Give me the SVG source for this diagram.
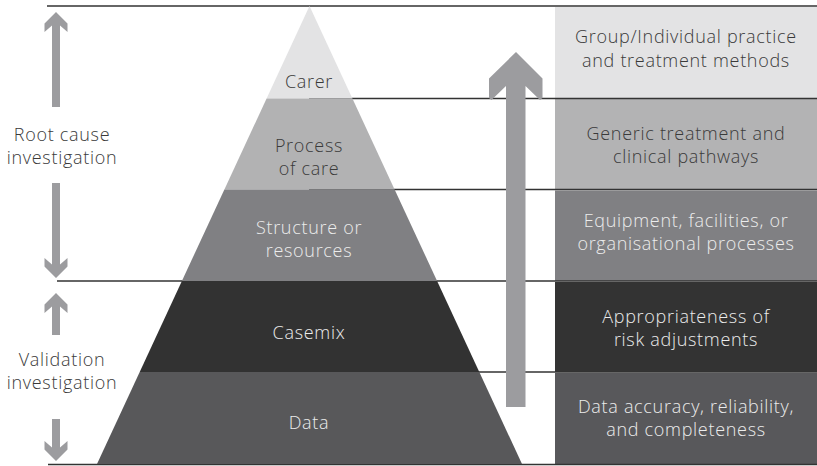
<svg xmlns="http://www.w3.org/2000/svg" width="817" height="466" viewBox="0 0 817 466">
  <style>
    text { font-family: "Open Sans", Lato, "Liberation Sans", sans-serif; font-weight: 300; font-size: 18px; letter-spacing: 0.7px; text-anchor: middle; }
    .dark { fill: #3a3a3a; }
    .light { fill: #ececec; }
    .rule { stroke: #333333; stroke-width: 1.3; fill: none; }
    .arrow { fill: #9c9c9f; }
  </style>
  <rect width="817" height="466" fill="#ffffff"/>

  <!-- right-hand description boxes -->
  <g id="box-carer">
    <rect x="555" y="7" width="262" height="91" fill="#e3e3e4"/>
    <text class="dark" x="686" y="43">Group/Individual practice</text>
    <text class="dark" x="686" y="67">and treatment methods</text>
  </g>
  <g id="box-process">
    <rect x="555" y="99" width="262" height="90.5" fill="#b3b3b4"/>
    <text class="dark" x="686" y="140">Generic treatment and</text>
    <text class="dark" x="686" y="163">clinical pathways</text>
  </g>
  <g id="box-structure">
    <rect x="555" y="190.5" width="262" height="90.5" fill="#808083"/>
    <text class="light" x="686" y="227">Equipment, facilities, or</text>
    <text class="light" x="686" y="250">organisational processes</text>
  </g>
  <g id="box-casemix">
    <rect x="555" y="282" width="262" height="90" fill="#333333"/>
    <text class="light" x="686" y="323">Appropriateness of</text>
    <text class="light" x="686" y="346">risk adjustments</text>
  </g>
  <g id="box-data">
    <rect x="555" y="373" width="262" height="91" fill="#58585b"/>
    <text class="light" x="686" y="413">Data accuracy, reliability,</text>
    <text class="light" x="686" y="436">and completeness</text>
  </g>

  <!-- horizontal level rules -->
  <g id="connectors">
    <line class="rule" x1="47" y1="6" x2="817" y2="6"/>
    <line class="rule" x1="309" y1="98.5" x2="817" y2="98.5"/>
    <line class="rule" x1="309" y1="189.5" x2="817" y2="189.5"/>
    <line class="rule" x1="57" y1="281" x2="817" y2="281"/>
    <line class="rule" x1="309" y1="372" x2="817" y2="372"/>
    <line class="rule" x1="48" y1="464.5" x2="817" y2="464.5"/>
  </g>

  <!-- pyramid levels -->
  <g id="level-carer">
    <polygon points="309.5,6 352.4,98.5 266.6,98.5" fill="#e3e3e4"/>
    <text class="dark" x="309" y="88">Carer</text>
  </g>
  <g id="level-process">
    <polygon points="266.6,98.5 352.4,98.5 394.6,189.5 224.4,189.5" fill="#b2b2b3"/>
    <text class="dark" x="309" y="152">Process</text>
    <text class="dark" x="309" y="175">of care</text>
  </g>
  <g id="level-structure">
    <polygon points="224.4,189.5 394.6,189.5 437.1,281 181.9,281" fill="#808083"/>
    <text class="light" x="309" y="234">Structure or</text>
    <text class="light" x="309" y="257">resources</text>
  </g>
  <g id="level-casemix">
    <polygon points="181.9,281 437.1,281 479.3,372 139.7,372" fill="#323232"/>
    <text class="light" x="309" y="339">Casemix</text>
  </g>
  <g id="level-data">
    <polygon points="139.7,372 479.3,372 522,464 97,464" fill="#58585a"/>
    <text class="light" x="309" y="429">Data</text>
  </g>

  <!-- large upward arrow between pyramid and boxes -->
  <g id="arrow-main">
    <polygon class="arrow" points="516,52 542.5,78.5 542.5,98 540,100 525.5,86 525.5,407 506,407 506,86 491.5,100 489,98 489,78.5"/>
  </g>

  <!-- left-side investigation arrows -->
  <g id="arrow-root-up">
    <polygon class="arrow" points="56,12 67.5,23.5 67.5,32 60,25.5 60,107 52,107 52,25.5 44.5,32 44.5,23.5"/>
  </g>
  <g id="arrow-root-down">
    <polygon class="arrow" points="56,278 67.5,266.5 67.5,258 60,264.5 60,183 52,183 52,264.5 44.5,258 44.5,266.5"/>
  </g>
  <g id="arrow-validation-up">
    <polygon class="arrow" points="56,293 67.5,304.5 67.5,313 60,306.5 60,335 52,335 52,306.5 44.5,313 44.5,304.5"/>
  </g>
  <g id="arrow-validation-down">
    <polygon class="arrow" points="56,461 67.5,449.5 67.5,441 60,447.5 60,419 52,419 52,447.5 44.5,441 44.5,449.5"/>
  </g>

  <!-- left-side labels -->
  <g id="label-root-cause">
    <text class="dark" x="62" y="141">Root cause</text>
    <text class="dark" x="62" y="164">investigation</text>
  </g>
  <g id="label-validation">
    <text class="dark" x="62" y="366">Validation</text>
    <text class="dark" x="62" y="389">investigation</text>
  </g>
</svg>
